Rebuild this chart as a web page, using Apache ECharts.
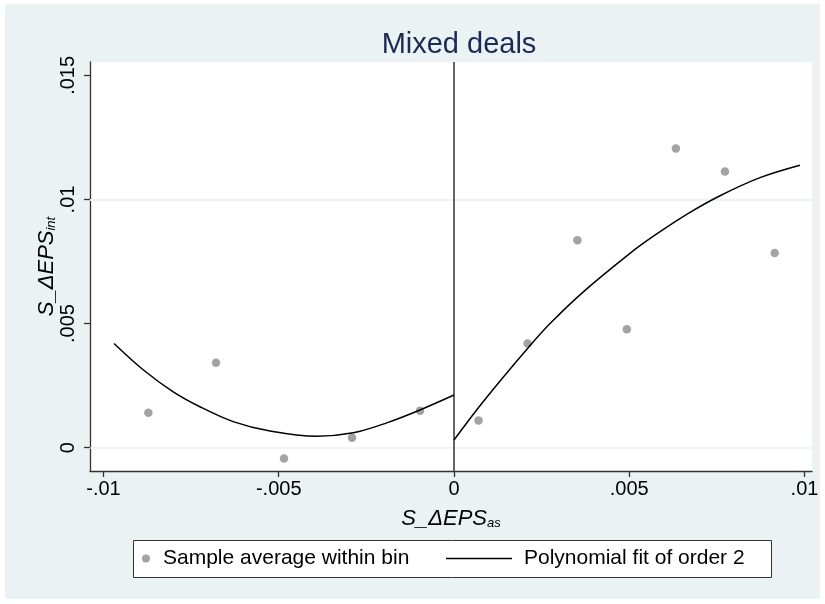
<!DOCTYPE html>
<html>
<head>
<meta charset="utf-8">
<script src="https://cdn.jsdelivr.net/npm/echarts@6/dist/echarts.min.js"></script>
<style>html,body{margin:0;padding:0;background:#fff;}#c{width:825px;height:604px;}</style>
</head>
<body>
<div id="c"></div>
<script>
// ---- data ----
const binX = [-0.00872, -0.00679, -0.00485, -0.00291, -0.00097, 0.00070, 0.00210, 0.00352, 0.00493, 0.00633, 0.00773, 0.00915];
const binY = [0.00141, 0.00342, -0.00044, 0.00040, 0.00149, 0.00109, 0.00420, 0.00836, 0.00477, 0.01205, 0.01113, 0.00784];
const fitLeftX  = [-0.00970, -0.00886, -0.00801, -0.00725, -0.00630, -0.00525, -0.00392, -0.00287, -0.00192, -0.00097, 0.0];
const fitLeftY  = [0.00420, 0.00313, 0.00225, 0.00165, 0.00105, 0.00067, 0.00046, 0.00060, 0.00100, 0.00152, 0.00212];
const fitRightX = [0.0, 0.00069, 0.00141, 0.00210, 0.00274, 0.00369, 0.00502, 0.00569, 0.00664, 0.00759, 0.00873, 0.00987];
const fitRightY = [0.00031, 0.00160, 0.00285, 0.00400, 0.00500, 0.00628, 0.00783, 0.00852, 0.00940, 0.01015, 0.01088, 0.01138];
const xTicks = [-0.01, -0.005, 0, 0.005, 0.01];
const yTicks = [0, 0.005, 0.01, 0.015];
const xRange = [-0.010385, 0.010214];
const yRange = [-0.00094, 0.01554];
const title = 'Mixed deals';
const scatterName = 'Sample average within bin';
const fitName = 'Polynomial fit of order 2';

const zip = (a, b) => a.map((v, i) => [v, b[i]]);
const fmt = v => (v === 0 ? '0' : String(v).replace('0.', '.'));
const FONT = '"Liberation Sans", Arial, sans-serif';
const nameRich = () => ({
  m: {fontFamily: FONT, fontSize: 22, fontStyle: 'italic', color: '#000'},
  s: {fontFamily: FONT, fontSize: 13, fontStyle: 'italic', color: '#000', padding: [10, 0, 0, 0]}
});

const chart = echarts.init(document.getElementById('c'), null, {renderer: 'canvas'});
chart.setOption({
  backgroundColor: '#fff',
  animation: false,
  textStyle: {fontFamily: FONT},
  title: {
    text: title, left: 454, top: 25, textAlign: 'center',
    textStyle: {fontFamily: FONT, fontSize: 29, fontWeight: 'normal', color: '#1c2a55'}
  },
  grid: {left: 90, right: 13, top: 62, bottom: 133, show: true, backgroundColor: '#fff', borderWidth: 0},
  xAxis: {
    type: 'value', min: xRange[0], max: xRange[1],
    name: '{m|S_ΔEPS}{s|as}', nameLocation: 'middle', nameGap: 36,
    nameTextStyle: {rich: nameRich()},
    axisLine: {show: true, onZero: false, lineStyle: {color: '#333', width: 1.3}},
    axisTick: {show: true, length: 6, customValues: xTicks, lineStyle: {color: '#333', width: 1.3}},
    axisLabel: {customValues: xTicks, formatter: fmt, fontSize: 20, color: '#000', margin: 8, fontFamily: FONT},
    splitLine: {show: false}
  },
  yAxis: {
    type: 'value', min: yRange[0], max: yRange[1],
    name: '{m|S_ΔEPS}{s|int}', nameLocation: 'middle', nameGap: 32, nameRotate: 90,
    nameMoveOverlap: false,
    nameTextStyle: {rich: nameRich()},
    axisLine: {show: true, onZero: false, lineStyle: {color: '#333', width: 1.3}},
    axisTick: {show: true, length: 6, customValues: yTicks, lineStyle: {color: '#333', width: 1.3}},
    axisLabel: {customValues: yTicks, formatter: fmt, rotate: 90, fontSize: 20, color: '#000', margin: 12, fontFamily: FONT},
    splitLine: {show: false}
  },
  legend: [
    {
      data: [scatterName], left: 142, top: 548, padding: 0,
      icon: 'circle', itemWidth: 8, itemHeight: 8,
      textStyle: {fontFamily: FONT, fontSize: 21, color: '#000', padding: [0, 0, 0, 8]}
    },
    {
      data: [{name: fitName, icon: 'rect'}], left: 446, top: 548, padding: 0,
      itemWidth: 66, itemHeight: 1.5,
      textStyle: {fontFamily: FONT, fontSize: 21, color: '#000', padding: [0, 0, 0, 7]}
    }
  ],
  graphic: [
    {
      type: 'rect', z: -10, silent: true,
      shape: {x: 5, y: 4, width: 815, height: 595},
      style: {fill: '#EAF2F3'}
    },
    {
      type: 'rect', z: 0, silent: true,
      shape: {x: 133.5, y: 540.5, width: 638, height: 37},
      style: {fill: '#fff', stroke: '#333', lineWidth: 1}
    }
  ],
  series: [
    {
      type: 'scatter', name: 'grid', data: [], silent: true, z: 1,
      markLine: {
        silent: true, symbol: 'none', z: 1, label: {show: false},
        data: yTicks.map(v => ({yAxis: v, lineStyle: {color: '#EAF2F3', width: 1.5, type: 'solid'}}))
          .concat([{xAxis: 0, lineStyle: {color: '#333', width: 1.5, type: 'solid'}}])
      }
    },
    {
      type: 'scatter', name: scatterName, data: zip(binX, binY),
      symbol: 'circle', symbolSize: 8.5, z: 3,
      itemStyle: {color: '#a3a3a3', opacity: 1}
    },
    {
      type: 'line', name: fitName, data: zip(fitLeftX, fitLeftY),
      smooth: 0.35, symbol: 'none', showSymbol: false, z: 4,
      lineStyle: {color: '#000', width: 1.5}, itemStyle: {color: '#000'}
    },
    {
      type: 'line', name: fitName, data: zip(fitRightX, fitRightY),
      smooth: 0.35, symbol: 'none', showSymbol: false, z: 4,
      lineStyle: {color: '#000', width: 1.5}, itemStyle: {color: '#000'}
    }
  ]
});
</script>
</body>
</html>
